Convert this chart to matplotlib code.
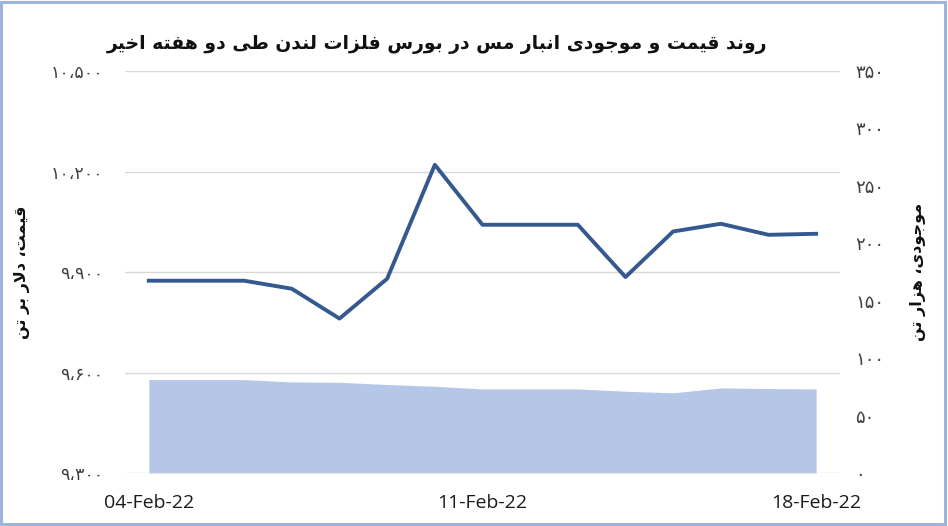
import matplotlib
matplotlib.use("Agg")
import matplotlib.pyplot as plt
import numpy as np
from matplotlib.patches import Rectangle

# ---------------- data ----------------
dates = ["04-Feb-22", "05-Feb-22", "06-Feb-22", "07-Feb-22", "08-Feb-22",
         "09-Feb-22", "10-Feb-22", "11-Feb-22", "12-Feb-22", "13-Feb-22",
         "14-Feb-22", "15-Feb-22", "16-Feb-22", "17-Feb-22", "18-Feb-22"]
price = [9874, 9874, 9874, 9850, 9761, 9880, 10220, 10041, 10041, 10041,
         9885, 10021, 10044, 10011, 10014]
stocks = [81.3, 81.3, 81.3, 79.3, 79.0, 77.0, 75.5, 73.2, 73.2, 73.2,
          71.2, 69.8, 74.1, 73.5, 73.2]
shown_dates = ["04-Feb-22", "11-Feb-22", "18-Feb-22"]
left_ticks = [9300, 9600, 9900, 10200, 10500]
right_ticks = [0, 50, 100, 150, 200, 250, 300, 350]

title_text = "روند قیمت و موجودی انبار مس در بورس فلزات لندن طی دو هفته اخیر"
left_label = "قیمت، دلار بر تن"
right_label = "موجودی، هزار تن"

# ---------------- simple Arabic/Persian shaper ----------------
FORMS = {
    'ا': ('\uFE8D', '\uFE8E', None, None),
    'ب': ('\uFE8F', '\uFE90', '\uFE91', '\uFE92'),
    'ت': ('\uFE95', '\uFE96', '\uFE97', '\uFE98'),
    'ج': ('\uFE9D', '\uFE9E', '\uFE9F', '\uFEA0'),
    'خ': ('\uFEA5', '\uFEA6', '\uFEA7', '\uFEA8'),
    'د': ('\uFEA9', '\uFEAA', None, None),
    'ر': ('\uFEAD', '\uFEAE', None, None),
    'ز': ('\uFEAF', '\uFEB0', None, None),
    'س': ('\uFEB1', '\uFEB2', '\uFEB3', '\uFEB4'),
    'ط': ('\uFEC1', '\uFEC2', '\uFEC3', '\uFEC4'),
    'ف': ('\uFED1', '\uFED2', '\uFED3', '\uFED4'),
    'ق': ('\uFED5', '\uFED6', '\uFED7', '\uFED8'),
    'ل': ('\uFEDD', '\uFEDE', '\uFEDF', '\uFEE0'),
    'م': ('\uFEE1', '\uFEE2', '\uFEE3', '\uFEE4'),
    'ن': ('\uFEE5', '\uFEE6', '\uFEE7', '\uFEE8'),
    'ه': ('\uFEE9', '\uFEEA', '\uFEEB', '\uFEEC'),
    'و': ('\uFEED', '\uFEEE', None, None),
    'ی': ('\uFBFC', '\uFBFD', '\uFBFE', '\uFBFF'),
}


def joins_forward(c):
    return c in FORMS and FORMS[c][2] is not None


def shape(text):
    chars = list(text)
    out = []
    i = 0
    while i < len(chars):
        c = chars[i]
        if c not in FORMS:
            out.append(c)
            i += 1
            continue
        prev = chars[i - 1] if i > 0 else None
        jp = joins_forward(prev)
        nxt = chars[i + 1] if i + 1 < len(chars) else None
        if c == 'ل' and nxt == 'ا':
            out.append('\uFEFC' if jp else '\uFEFB')
            i += 2
            continue
        jn = FORMS[c][2] is not None and nxt in FORMS
        iso, fin, ini, med = FORMS[c]
        if jp and jn:
            out.append(med)
        elif jp:
            out.append(fin)
        elif jn:
            out.append(ini)
        else:
            out.append(iso)
        i += 1
    return ''.join(reversed(out))


PDIG = str.maketrans("0123456789,", "۰۱۲۳۴۵۶۷۸۹،")


def pnum(v):
    return f"{v:,}".translate(PDIG)


# ---------------- figure ----------------
plt.rcParams['font.family'] = ['DejaVu Sans']
fig = plt.figure(figsize=(9.48, 5.26), dpi=100)
fig.patch.set_facecolor("white")

ax = fig.add_axes([125 / 948, 1 - 473 / 526, 715 / 948, (473 - 71) / 526])
ax2 = ax.twinx()

x = np.arange(len(dates))

ax2.fill_between(x, 0, stocks, color="#B4C7E7", linewidth=0, zorder=1)
ax2.set_ylim(0, 350)
ax2.set_yticks(right_ticks)
ax2.set_yticklabels([pnum(v) for v in right_ticks])

ax.set_zorder(ax2.get_zorder() + 1)
ax.patch.set_visible(False)
ax.plot(x, price, color="#35598F", linewidth=2.8, solid_joinstyle="round", zorder=3)
ax.set_ylim(9300, 10500)
ax.set_yticks(left_ticks)
ax.set_yticklabels([pnum(v) for v in left_ticks])
ax.set_xlim(-0.5, len(dates) - 0.5)
ax.set_xticks([dates.index(d) for d in shown_dates])
ax.set_xticklabels(shown_dates, fontfamily="Open Sans", fontsize=14)
ax.grid(axis="y", color="#D9D9D9", linewidth=1)
ax.set_axisbelow(True)

for a in (ax, ax2):
    for s in a.spines.values():
        s.set_visible(False)
ax.tick_params(axis="both", length=0)
ax2.tick_params(axis="both", length=0)
ax.tick_params(axis="y", pad=16, labelsize=12.5, labelcolor="#404040")
ax2.tick_params(axis="y", pad=11, labelsize=13, labelcolor="#404040")
ax.tick_params(axis="x", pad=15, labelcolor="#1a1a1a")

fig.text(22 / 948, 1 - 272 / 526, shape(left_label), rotation=90,
         ha="center", va="center", fontsize=11.5, fontweight="bold", color="#111111")
fig.text(918 / 948, 1 - 272 / 526, shape(right_label), rotation=90,
         ha="center", va="center", fontsize=11.5, fontweight="bold", color="#111111")
fig.text(437 / 948, 1 - 45 / 526, shape(title_text), ha="center", va="center",
         fontsize=13.5, fontweight="bold", color="#111111")

fig.patches.append(Rectangle((0.0015, 0.003), 0.9955, 0.994, transform=fig.transFigure,
                             fill=False, edgecolor="#9DB4DC", linewidth=2.2))

fig.savefig("out.png", dpi=100, facecolor="white")
